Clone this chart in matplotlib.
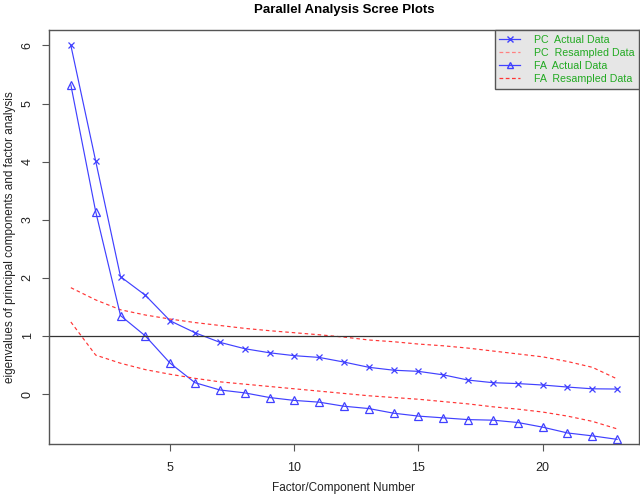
import matplotlib
matplotlib.use("Agg")
import matplotlib.pyplot as plt
from matplotlib.lines import Line2D

plt.rcParams['font.family'] = ['Liberation Sans', 'DejaVu Sans']

factors = list(range(1, 24))
pc_actual = [6.00, 4.01, 2.02, 1.70, 1.26, 1.055, 0.89, 0.78, 0.71, 0.66, 0.63, 0.55,
             0.46, 0.41, 0.39, 0.33, 0.24, 0.195, 0.18, 0.155, 0.12, 0.09, 0.086]
pc_resampled = [1.83, 1.62, 1.45, 1.36, 1.29, 1.23, 1.18, 1.13, 1.09, 1.055, 1.02, 0.98,
                0.93, 0.90, 0.86, 0.83, 0.79, 0.74, 0.69, 0.64, 0.56, 0.46, 0.26]
fa_actual = [5.32, 3.14, 1.35, 1.00, 0.53, 0.195, 0.07, 0.02, -0.06, -0.11, -0.14, -0.21,
             -0.25, -0.33, -0.38, -0.41, -0.44, -0.45, -0.49, -0.57, -0.67, -0.72, -0.78]
fa_resampled = [1.24, 0.67, 0.53, 0.42, 0.34, 0.27, 0.21, 0.17, 0.13, 0.09, 0.05, 0.01,
                -0.03, -0.06, -0.09, -0.13, -0.17, -0.22, -0.26, -0.31, -0.38, -0.47, -0.60]
x_ticks = [5, 10, 15, 20]
y_ticks = [0, 1, 2, 3, 4, 5, 6]
legend_labels = ["PC  Actual Data", "PC  Resampled Data", "FA  Actual Data", "FA  Resampled Data"]

fig = plt.figure(figsize=(6.4, 4.96), dpi=100)
ax = fig.add_axes([49/640, 1 - 444/496, (639 - 49)/640, (444 - 30)/496])

blue = '#4040ff'
red = '#ff3535'
ax.plot(factors, pc_actual, color=blue, lw=0.85, marker='x', ms=5, mew=0.9)
ax.plot(factors, pc_resampled, color=red, lw=0.85, ls=(0, (3, 2.5)))
ax.plot(factors, fa_actual, color=blue, lw=0.85, marker='^', ms=6, mew=0.9, mfc='none')
ax.plot(factors, fa_resampled, color=red, lw=0.85, ls=(0, (3, 2.5)))
ax.axhline(1, color='#333333', lw=0.9)

ax.set_xlim(0.12, 23.88)
ax.set_ylim(-0.86, 6.265)
ax.set_xticks(x_ticks)
ax.set_yticks(y_ticks)
ax.tick_params(axis='both', labelsize=9, length=5, color='#555555', labelcolor='#222222')
ax.tick_params(axis='x', pad=8)
ax.tick_params(axis='y', labelrotation=90, pad=6)
for lab in ax.get_yticklabels():
    lab.set_va('center')
for s in ax.spines.values():
    s.set_color('#555555')
    s.set_linewidth(1.0)

ax.set_xlabel("Factor/Component Number", fontsize=8.5, color='#222222', va='center')
ax.set_ylabel("eigenvalues of principal components and factor analysis", fontsize=8.5,
              color='#222222', va='center')
ax.xaxis.set_label_coords(0.5, (444 - 488) / 414)
ax.yaxis.set_label_coords((10 - 49) / 590, 0.5)
ax.set_title("Parallel Analysis Scree Plots", fontsize=9.5, fontweight='bold', pad=12)

handles = [
    Line2D([], [], color=blue, lw=0.9, marker='x', ms=5),
    Line2D([], [], color='#ff8080', lw=0.9, ls=(0, (3, 2))),
    Line2D([], [], color=blue, lw=0.9, marker='^', ms=5, mfc='none'),
    Line2D([], [], color=red, lw=0.9, ls=(0, (3, 2))),
]
leg = ax.legend(handles, legend_labels, loc='upper right', bbox_to_anchor=(1.0, 1.0),
                fontsize=7.7, labelcolor='#22aa22', frameon=True, fancybox=False,
                handlelength=1.9, handletextpad=1.3, labelspacing=0.28,
                borderpad=0.45, borderaxespad=0.0)
leg.get_frame().set_facecolor('#e6e6e6')
leg.get_frame().set_edgecolor('#555555')
leg.get_frame().set_alpha(1.0)

fig.savefig("out.png", dpi=100)
